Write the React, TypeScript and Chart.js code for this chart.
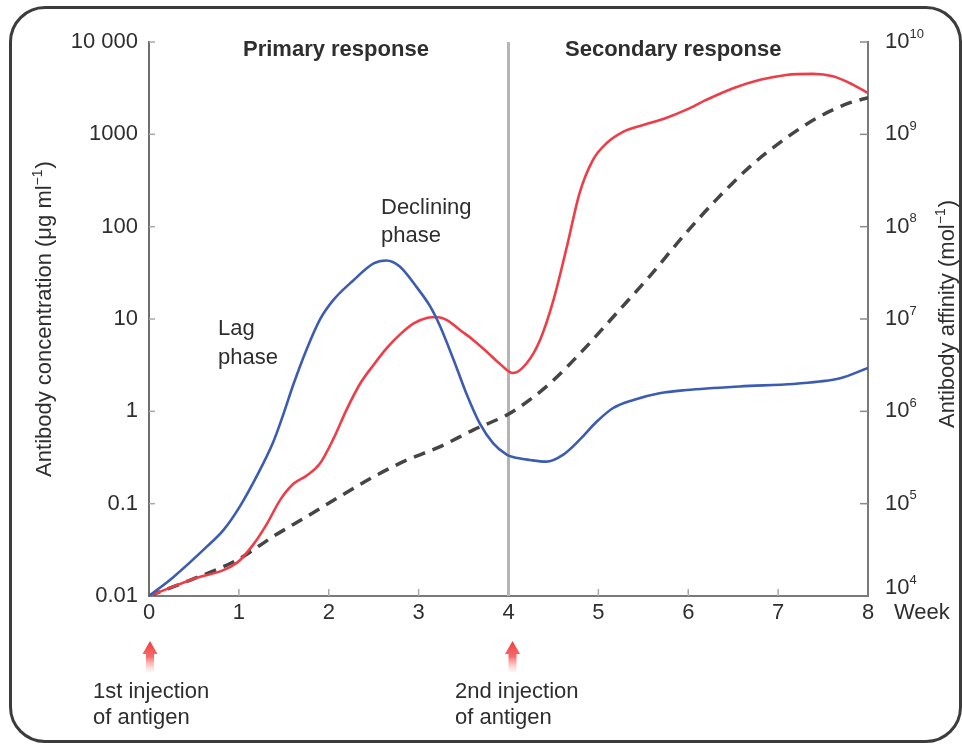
import React, { useEffect, useRef } from "react";
import { Chart, registerables } from "chart.js";

Chart.register(...registerables);

const FONT = '"Liberation Sans", Arial, Helvetica, sans-serif';
const TEXT = "#2e2e2e";

// ---- axis ticks ----
const WEEK_TICKS = [0, 1, 2, 3, 4, 5, 6, 7, 8];
const CONC_TICKS = [0.01, 0.1, 1, 10, 100, 1000, 10000];
const CONC_TICK_LABELS = ["0.01", "0.1", "1", "10", "100", "1000", "10 000"];
const AFFINITY_TICKS = [1e4, 1e5, 1e6, 1e7, 1e8, 1e9, 1e10];
const AFFINITY_EXPONENTS = ["4", "5", "6", "7", "8", "9", "10"];

const SECOND_INJECTION_WEEK = 4;
const INJECTION_WEEKS = [0, 4];

// ---- blue curve: antibody concentration (µg/ml) ----
const BLUE_WEEKS = [0, 0.27, 0.64, 0.83, 1.01, 1.2, 1.38, 1.49, 1.61, 1.75, 1.9, 2.05, 2.27, 2.5, 2.64, 2.79, 2.98, 3.13, 3.24, 3.39, 3.53, 3.68, 3.83, 3.98, 4.05, 4.24, 4.42, 4.61, 4.79, 4.98, 5.16, 5.39, 5.68, 5.98, 6.57, 7.17, 7.46, 7.69, 8];
const BLUE_CONC = [0.01, 0.016, 0.034, 0.052, 0.093, 0.2, 0.46, 0.9, 2.0, 4.6, 9.8, 16, 26, 40, 43, 37, 22, 13.6, 8.3, 3.6, 1.57, 0.74, 0.45, 0.34, 0.32, 0.297, 0.285, 0.34, 0.49, 0.77, 1.08, 1.33, 1.57, 1.7, 1.86, 1.98, 2.1, 2.28, 2.95];

// ---- red curve: antibody concentration (µg/ml) ----
const RED_WEEKS = [0, 0.46, 0.98, 1.16, 1.31, 1.46, 1.61, 1.75, 1.9, 2.05, 2.2, 2.35, 2.5, 2.65, 2.8, 2.95, 3.1, 3.2, 3.31, 3.46, 3.61, 3.76, 3.9, 4.05, 4.2, 4.35, 4.5, 4.65, 4.79, 4.94, 5.09, 5.28, 5.5, 5.76, 5.98, 6.2, 6.5, 6.8, 7.09, 7.39, 7.61, 7.83, 8];
const RED_CONC = [0.01, 0.0149, 0.023, 0.036, 0.06, 0.11, 0.165, 0.2, 0.27, 0.5, 1.05, 2.0, 3.2, 4.9, 6.9, 9.0, 10.3, 10.5, 9.8, 7.6, 5.9, 4.4, 3.3, 2.6, 3.3, 5.9, 16, 61, 230, 530, 800, 1070, 1260, 1510, 1850, 2360, 3160, 3900, 4400, 4520, 4250, 3460, 2800];

// ---- dashed curve: antibody affinity (mol^-1) ----
const AFFINITY_WEEKS = [0, 0.46, 0.98, 1.38, 1.75, 2.12, 2.5, 2.87, 3.24, 3.61, 3.98, 4.13, 4.46, 4.83, 5.2, 5.57, 5.94, 6.31, 6.69, 7.06, 7.43, 7.8, 8];
const AFFINITY = [1e4, 1.49e4, 2.45e4, 4.4e4, 7.2e4, 1.19e5, 1.96e5, 2.97e5, 4.15e5, 6.3e5, 9.1e5, 1.12e6, 2.0e6, 4.6e6, 1.15e7, 2.9e7, 7.8e7, 1.95e8, 4.5e8, 8.7e8, 1.5e9, 2.2e9, 2.5e9];

const toPoints = (xs: number[], ys: number[]) => xs.map((x, i) => ({ x, y: ys[i] }));

function drawSupTitle(ctx: CanvasRenderingContext2D, cx: number, cy: number, main: string, sup: string, tail: string, size: number) {
  ctx.save();
  ctx.translate(cx, cy);
  ctx.rotate(-Math.PI / 2);
  const f1 = `${size}px ${FONT}`;
  const f2 = `${Math.round(size * 0.62)}px ${FONT}`;
  ctx.font = f1;
  const w1 = ctx.measureText(main).width;
  const w3 = ctx.measureText(tail).width;
  ctx.font = f2;
  const w2 = ctx.measureText(sup).width;
  const total = w1 + w2 + w3 + 1;
  let x = -total / 2;
  ctx.fillStyle = TEXT;
  ctx.textBaseline = "middle";
  ctx.textAlign = "left";
  ctx.font = f1;
  ctx.fillText(main, x, 0);
  x += w1;
  ctx.font = f2;
  ctx.fillText(sup, x, -size * 0.33);
  x += w2 + 1;
  ctx.font = f1;
  ctx.fillText(tail, x, 0);
  ctx.restore();
}

function drawArrow(ctx: CanvasRenderingContext2D, x: number, top: number, bottom: number) {
  const g = ctx.createLinearGradient(0, top, 0, bottom);
  g.addColorStop(0, "rgba(242,60,60,1)");
  g.addColorStop(0.5, "rgba(246,90,90,0.9)");
  g.addColorStop(1, "rgba(255,180,180,0.15)");
  ctx.fillStyle = g;
  ctx.beginPath();
  ctx.moveTo(x, top);
  ctx.lineTo(x + 7.5, top + 13);
  ctx.lineTo(x + 4, top + 13);
  ctx.lineTo(x + 4, bottom);
  ctx.lineTo(x - 4, bottom);
  ctx.lineTo(x - 4, top + 13);
  ctx.lineTo(x - 7.5, top + 13);
  ctx.closePath();
  ctx.fill();
}

const overlay = {
  id: "overlay",
  beforeDatasetsDraw(chart: any) {
    const { ctx, chartArea, scales } = chart;
    const xs = scales.x, ys = scales.y, y2 = scales.y2;
    ctx.save();
    // vertical line at 2nd injection
    const xv = xs.getPixelForValue(SECOND_INJECTION_WEEK);
    ctx.strokeStyle = "#b5b5b5";
    ctx.lineWidth = 3;
    ctx.beginPath();
    ctx.moveTo(xv, chartArea.top);
    ctx.lineTo(xv, chartArea.bottom);
    ctx.stroke();
    // inward ticks
    ctx.lineWidth = 1.5;
    ctx.strokeStyle = "#a8a8a8";
    WEEK_TICKS.slice(1, -1).forEach((w) => {
      if (w === SECOND_INJECTION_WEEK) return;
      const px = xs.getPixelForValue(w);
      ctx.beginPath();
      ctx.moveTo(px, chartArea.bottom);
      ctx.lineTo(px, chartArea.bottom - 7);
      ctx.stroke();
    });
    CONC_TICKS.slice(1).forEach((v) => {
      const py = ys.getPixelForValue(v);
      ctx.beginPath();
      ctx.moveTo(chartArea.left, py);
      ctx.lineTo(chartArea.left + 6, py);
      ctx.stroke();
    });
    ctx.strokeStyle = "#8a8a8a";
    AFFINITY_TICKS.slice(1).forEach((v) => {
      const py = y2.getPixelForValue(v);
      ctx.beginPath();
      ctx.moveTo(chartArea.right, py);
      ctx.lineTo(chartArea.right - 8, py);
      ctx.stroke();
    });
    ctx.restore();
  },
  afterDraw(chart: any) {
    const { ctx, chartArea, scales } = chart;
    const xs = scales.x, y2 = scales.y2;
    ctx.save();
    ctx.fillStyle = TEXT;
    ctx.textBaseline = "middle";
    ctx.textAlign = "left";

    // right axis labels 10^n
    AFFINITY_TICKS.forEach((v, i) => {
      let py = y2.getPixelForValue(v);
      if (i === 0) py -= 8;
      const x0 = chartArea.right + 17;
      ctx.font = `22px ${FONT}`;
      ctx.fillText("10", x0, py);
      const w = ctx.measureText("10").width;
      ctx.font = `13px ${FONT}`;
      ctx.fillText(AFFINITY_EXPONENTS[i], x0 + w, py - 8);
    });

    // "Week"
    ctx.font = `22px ${FONT}`;
    ctx.fillText("Week", chartArea.right + 26, 613);

    // headings
    ctx.font = `bold 22px ${FONT}`;
    ctx.fillText("Primary response", 243, 50);
    ctx.fillText("Secondary response", 565, 50);

    // phase annotations
    ctx.font = `22px ${FONT}`;
    ctx.fillText("Declining", 381, 208);
    ctx.fillText("phase", 381, 236);
    ctx.fillText("Lag", 218, 329);
    ctx.fillText("phase", 218, 358);

    // injections
    ctx.fillText("1st injection", 93, 692);
    ctx.fillText("of antigen", 93, 718);
    ctx.fillText("2nd injection", 455, 692);
    ctx.fillText("of antigen", 455, 718);
    INJECTION_WEEKS.forEach((w) => {
      drawArrow(ctx, xs.getPixelForValue(w) + (w === 0 ? 1 : 4), 641, 672);
    });
    ctx.restore();

    // axis titles
    drawSupTitle(ctx, 45, 319, "Antibody concentration (\u03bcg ml", "\u22121", ")", 22);
    drawSupTitle(ctx, 948, 314, "Antibody affinity (mol", "\u22121", ")", 22);
  },
};

export default function App() {
  const ref = useRef<HTMLCanvasElement | null>(null);
  useEffect(() => {
    if (!ref.current) return;
    const tickFont = { family: FONT, size: 22 };
    const chart = new Chart(ref.current, {
      type: "line",
      data: {
        datasets: [
          {
            label: "Blue",
            data: toPoints(BLUE_WEEKS, BLUE_CONC),
            borderColor: "#3c5cb4",
            borderWidth: 2.6,
            pointRadius: 0,
            cubicInterpolationMode: "monotone",
            yAxisID: "y",
          },
          {
            label: "Red",
            data: toPoints(RED_WEEKS, RED_CONC),
            borderColor: "#ef3d48",
            borderWidth: 2.6,
            pointRadius: 0,
            cubicInterpolationMode: "monotone",
            yAxisID: "y",
          },
          {
            label: "Affinity",
            data: toPoints(AFFINITY_WEEKS, AFFINITY),
            borderColor: "#454545",
            borderWidth: 3.5,
            borderDash: [12, 8],
            pointRadius: 0,
            cubicInterpolationMode: "monotone",
            yAxisID: "y2",
          },
        ],
      },
      options: {
        responsive: false,
        animation: false,
        devicePixelRatio: 1,
        layout: { padding: { top: 42, left: 0, right: 0, bottom: 0 } },
        plugins: { legend: { display: false }, tooltip: { enabled: false } },
        scales: {
          x: {
            type: "linear",
            min: 0,
            max: 8,
            afterBuildTicks: (s: any) => {
              s.ticks = WEEK_TICKS.map((v) => ({ value: v }));
            },
            afterFit: (s: any) => {
              s.height = 148;
            },
            ticks: {
              font: tickFont,
              color: TEXT,
              padding: 4,
              maxRotation: 0,
              autoSkip: false,
              callback: (v: any) => String(v),
            },
            grid: { display: false, drawTicks: false },
            border: { display: true, color: "#7a7a7a", width: 2 },
          },
          y: {
            type: "logarithmic",
            position: "left",
            min: 0.01,
            max: 10000,
            afterBuildTicks: (s: any) => {
              s.ticks = CONC_TICKS.map((v) => ({ value: v }));
            },
            afterFit: (s: any) => {
              s.width = 149;
            },
            ticks: {
              font: tickFont,
              color: TEXT,
              padding: 11,
              autoSkip: false,
              callback: (_v: any, i: number) => CONC_TICK_LABELS[i],
            },
            grid: { display: false, drawTicks: false },
            border: { display: true, color: "#6e6e6e", width: 2 },
          },
          y2: {
            type: "logarithmic",
            position: "right",
            min: 1e4,
            max: 1e10,
            afterBuildTicks: (s: any) => {
              s.ticks = AFFINITY_TICKS.map((v) => ({ value: v }));
            },
            afterFit: (s: any) => {
              s.width = 94;
            },
            ticks: { display: false },
            grid: { display: false, drawTicks: false },
            border: { display: true, color: "#7a7a7a", width: 2 },
          },
        },
      },
      plugins: [overlay],
    } as any);
    return () => chart.destroy();
  }, []);

  return (
    <div
      style={{
        position: "fixed",
        left: 0,
        top: 0,
        width: 962,
        height: 744,
        overflow: "hidden",
        background: "#fff",
      }}
    >
      <div
        style={{
          position: "absolute",
          left: 9,
          top: 6,
          width: 953,
          height: 737,
          boxSizing: "border-box",
          border: "3px solid #3c3c3c",
          borderRadius: 36,
        }}
      />
      <canvas
        ref={ref}
        width={962}
        height={744}
        style={{ position: "absolute", left: 0, top: 0, display: "block" }}
      />
    </div>
  );
}
